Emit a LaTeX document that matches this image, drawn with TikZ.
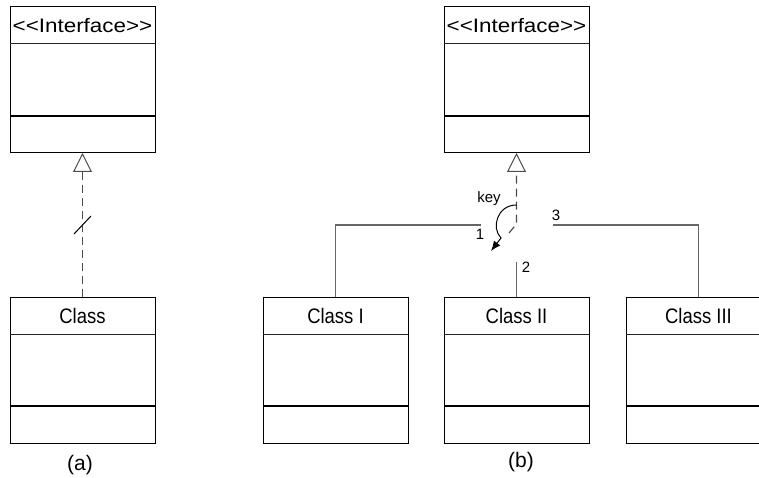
\documentclass[tikz,border=0pt]{standalone}
\usepackage{fontspec}
\setmainfont{Liberation Sans}
\usetikzlibrary{arrows.meta,calc}
\newcommand\umlbox[5]{% name, x, ytop, text, xscale
  \node[box] (#1) at (#2,#3+73) {};
  \draw[sepl] ($(#1.north west)+(0,37)$) -- ($(#1.north east)+(0,37)$);
  \draw[sepb] ($(#1.north west)+(0,109)$) -- ($(#1.north east)+(0,109)$);
  \node[title] (#1t) at ($(#1.north)+(0,19)$) {\scalebox{#5}[1]{#4}};
}
\begin{document}
\begin{tikzpicture}[x=1pt,y=-1pt,
  box/.style={draw=black,line width=1pt,minimum width=145pt,minimum height=146pt,inner sep=0pt,outer sep=0pt},
  sepl/.style={draw=black!85,line width=1pt},
  sepb/.style={draw=black,line width=1.5pt},
  title/.style={font=\fontsize{21}{24}\selectfont,inner sep=0pt},
  conn/.style={draw=black!60,line width=1.3pt},
  realz/.style={draw=black!70,line width=1.2pt,dash pattern=on 8pt off 5pt},
  lbl/.style={font=\fontsize{15}{17}\selectfont,inner sep=0pt},
  capt/.style={font=\fontsize{21}{24}\selectfont,inner sep=0pt},
  tri/.style={-{Triangle[open,length=19pt,width=19pt,line width=1pt]}}
]
\useasboundingbox (0,0) rectangle (759,478);
\clip (0,0) rectangle (759,478);
% (a)
\umlbox{ia}{82.5}{7}{\fontsize{19.5}{22}\selectfont<\kern0pt<Interface>\kern0pt>}{1.15}
\umlbox{ca}{82.5}{297}{Class}{0.88}
\draw[realz,tri] (ca.north) -- coordinate[pos=0.5] (ma) (ia.south);
\draw[draw=black,line width=1pt] ($(ma)+(-8.5,9)$) -- ($(ma)+(8.5,-9)$);
\node[capt] (capa) at (80,465) {(a)};
% (b)
\umlbox{ib}{516.5}{7}{\fontsize{19.5}{22}\selectfont<\kern0pt<Interface>\kern0pt>}{1.15}
\umlbox{c1}{335.5}{297}{Class I}{0.88}
\umlbox{c2}{516.5}{297}{Class II}{0.88}
\umlbox{c3}{698.5}{297}{Class III}{0.88}
\coordinate (kend) at (509,233);
\coordinate (kb) at (516.5,224);
\draw[realz,tri] (kend) -- (kb) -- (ib.south);
\coordinate (ks) at (516.5,205);
\coordinate (kc) at (501,238);
\coordinate (kt) at (491,251);
\draw[black,line width=1pt,-{Latex[length=10pt,width=8pt]}] (ks) .. controls (497,205) and (491,228) .. (kc) -- (kt);
\node[lbl] (key) at (489,199) {key};
\coordinate (e1) at (481,225);
\coordinate (e2) at (516.5,262);
\coordinate (e3) at (553,225);
\draw[conn] (c1.north) |- (e1);
\draw[conn] (c2.north) -- (e2);
\draw[conn] (c3.north) |- (e3);
\node[lbl] (n1) at (480,234) {1};
\node[lbl] (n2) at (526,267) {2};
\node[lbl] (n3) at (556,215) {3};
\node[capt] (capb) at (521,462) {(b)};
\end{tikzpicture}
\end{document}
